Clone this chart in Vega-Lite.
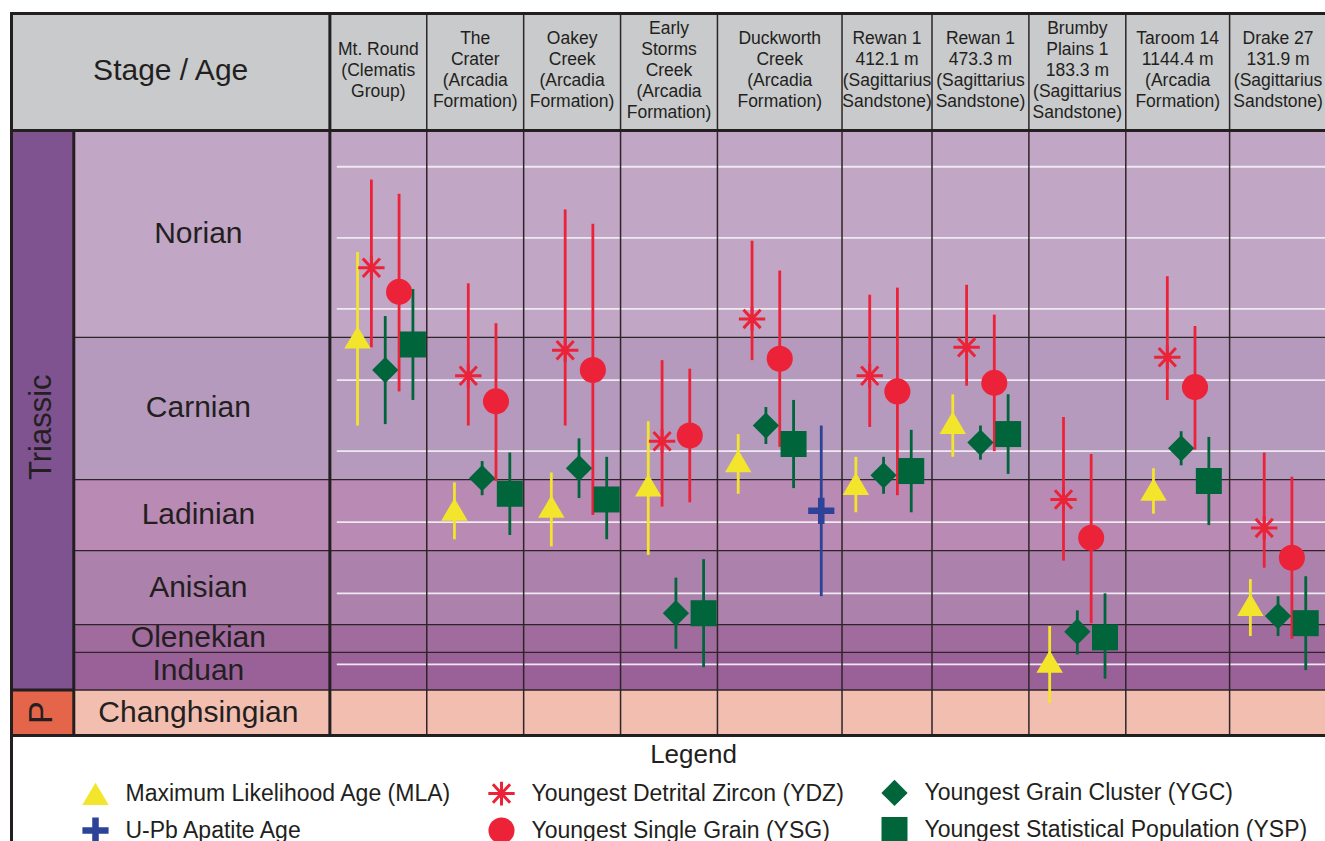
{
  "$schema": "https://vega.github.io/schema/vega-lite/v6.json",
  "background": "white",
  "padding": {"left": 8.5, "top": 10.5, "right": 0, "bottom": 0},
  "spacing": 0,
  "bounds": "flush",
  "resolve": {"scale": {"x": "shared"}},
  "config": {
    "font": "Liberation Sans",
    "view": {"stroke": null},
    "text": {"color": "#231F20", "fontSize": 17.5, "lineHeight": 21, "lineBreak": "\n"},
    "legend": {
      "orient": "none",
      "legendX": 69,
      "legendY": 611,
      "direction": "horizontal",
      "columns": 3,
      "columnPadding": 30,
      "rowPadding": -2,
      "labelFont": "Liberation Sans",
      "labelFontSize": 23,
      "labelColor": "#231F20",
      "labelLimit": 600,
      "labelOffset": 15,
      "titleFont": "Liberation Sans",
      "titleFontSize": 26,
      "titleFontWeight": "normal",
      "titleColor": "#231F20",
      "titleAnchor": "middle",
      "titlePadding": 10,
      "symbolStrokeWidth": 3,
      "symbolOpacity": 1
    }
  },
  "datasets": {
    "samples": [
      {"id": "MR", "label": "Mt. Round\n(Clematis\nGroup)"},
      {"id": "CR", "label": "The\nCrater\n(Arcadia\nFormation)"},
      {"id": "OK", "label": "Oakey\nCreek\n(Arcadia\nFormation)"},
      {"id": "ES", "label": "Early\nStorms\nCreek\n(Arcadia\nFormation)"},
      {"id": "DC", "label": "Duckworth\nCreek\n(Arcadia\nFormation)"},
      {"id": "R1", "label": "Rewan 1\n412.1 m\n(Sagittarius\nSandstone)"},
      {"id": "R2", "label": "Rewan 1\n473.3 m\n(Sagittarius\nSandstone)"},
      {"id": "BP", "label": "Brumby\nPlains 1\n183.3 m\n(Sagittarius\nSandstone)"},
      {"id": "TA", "label": "Taroom 14\n1144.4 m\n(Arcadia\nFormation)"},
      {"id": "DR", "label": "Drake 27\n131.9 m\n(Sagittarius\nSandstone)"}
    ],
    "periods": [
      {"name": "Triassic", "start": 212.45, "end": 251.8},
      {"name": "P", "start": 251.8, "end": 255}
    ],
    "stages": [
      {"stage": "Norian", "start": 212.45, "end": 227.0},
      {"stage": "Carnian", "start": 227.0, "end": 237.0},
      {"stage": "Ladinian", "start": 237.0, "end": 242.0},
      {"stage": "Anisian", "start": 242.0, "end": 247.2},
      {"stage": "Olenekian", "start": 247.2, "end": 249.15},
      {"stage": "Induan", "start": 249.15, "end": 251.8},
      {"stage": "Changhsingian", "start": 251.8, "end": 255}
    ],
    "ticks": [{"age": 215}, {"age": 220}, {"age": 225}, {"age": 230}, {"age": 235}, {"age": 240}, {"age": 245}, {"age": 250}],
    "edges": [{"b": "B1"}, {"b": "B2"}, {"b": "B3"}, {"b": "B4"}, {"b": "B5"}, {"b": "B6"}, {"b": "B7"}, {"b": "B8"}, {"b": "B9"}],
    "ages": [
      {"s": "MR", "m": "MLA", "age": 227.0, "lo": 221.0, "hi": 233.2},
      {"s": "MR", "m": "YDZ", "age": 222.1, "lo": 215.9, "hi": 227.7},
      {"s": "MR", "m": "YGC", "age": 229.3, "lo": 225.5, "hi": 233.1},
      {"s": "MR", "m": "YSG", "age": 223.8, "lo": 216.9, "hi": 230.8},
      {"s": "MR", "m": "YSP", "age": 227.5, "lo": 223.6, "hi": 231.4},
      {"s": "CR", "m": "MLA", "age": 239.1, "lo": 237.2, "hi": 241.2},
      {"s": "CR", "m": "YDZ", "age": 229.7, "lo": 223.2, "hi": 233.2},
      {"s": "CR", "m": "YGC", "age": 236.9, "lo": 235.7, "hi": 238.1},
      {"s": "CR", "m": "YSG", "age": 231.5, "lo": 226.0, "hi": 237.1},
      {"s": "CR", "m": "YSP", "age": 238.0, "lo": 235.1, "hi": 240.9},
      {"s": "OK", "m": "MLA", "age": 238.9, "lo": 236.5, "hi": 241.7},
      {"s": "OK", "m": "YDZ", "age": 227.9, "lo": 218.0, "hi": 233.2},
      {"s": "OK", "m": "YGC", "age": 236.2, "lo": 234.1, "hi": 238.3},
      {"s": "OK", "m": "YSG", "age": 229.3, "lo": 219.0, "hi": 239.5},
      {"s": "OK", "m": "YSP", "age": 238.4, "lo": 235.4, "hi": 241.2},
      {"s": "ES", "m": "MLA", "age": 237.4, "lo": 232.9, "hi": 242.3},
      {"s": "ES", "m": "YDZ", "age": 234.3, "lo": 228.6, "hi": 238.9},
      {"s": "ES", "m": "YGC", "age": 246.4, "lo": 243.9, "hi": 248.9},
      {"s": "ES", "m": "YSG", "age": 233.9, "lo": 229.2, "hi": 238.6},
      {"s": "ES", "m": "YSP", "age": 246.4, "lo": 242.6, "hi": 250.2},
      {"s": "DC", "m": "MLA", "age": 235.7, "lo": 233.8, "hi": 238.0},
      {"s": "DC", "m": "YDZ", "age": 225.7, "lo": 220.2, "hi": 228.6},
      {"s": "DC", "m": "YGC", "age": 233.2, "lo": 231.9, "hi": 234.5},
      {"s": "DC", "m": "YSG", "age": 228.5, "lo": 222.3, "hi": 234.7},
      {"s": "DC", "m": "YSP", "age": 234.5, "lo": 231.4, "hi": 237.6},
      {"s": "DC", "m": "APA", "age": 239.2, "lo": 233.2, "hi": 245.2},
      {"s": "R1", "m": "MLA", "age": 237.3, "lo": 235.4, "hi": 239.3},
      {"s": "R1", "m": "YDZ", "age": 229.7, "lo": 224.0, "hi": 233.3},
      {"s": "R1", "m": "YGC", "age": 236.7, "lo": 235.4, "hi": 238.0},
      {"s": "R1", "m": "YSG", "age": 230.8, "lo": 223.5, "hi": 238.1},
      {"s": "R1", "m": "YSP", "age": 236.4, "lo": 233.5, "hi": 239.3},
      {"s": "R2", "m": "MLA", "age": 233.0, "lo": 231.0, "hi": 235.4},
      {"s": "R2", "m": "YDZ", "age": 227.7, "lo": 223.3, "hi": 230.4},
      {"s": "R2", "m": "YGC", "age": 234.4, "lo": 233.2, "hi": 235.6},
      {"s": "R2", "m": "YSG", "age": 230.2, "lo": 225.4, "hi": 235.0},
      {"s": "R2", "m": "YSP", "age": 233.8, "lo": 231.0, "hi": 236.6},
      {"s": "BP", "m": "MLA", "age": 249.8, "lo": 247.3, "hi": 252.7},
      {"s": "BP", "m": "YDZ", "age": 238.4, "lo": 232.6, "hi": 242.7},
      {"s": "BP", "m": "YGC", "age": 247.7, "lo": 246.2, "hi": 249.3},
      {"s": "BP", "m": "YSG", "age": 241.1, "lo": 235.2, "hi": 247.1},
      {"s": "BP", "m": "YSP", "age": 248.1, "lo": 245.0, "hi": 251.0},
      {"s": "TA", "m": "MLA", "age": 237.7, "lo": 236.2, "hi": 239.4},
      {"s": "TA", "m": "YDZ", "age": 228.4, "lo": 222.7, "hi": 231.4},
      {"s": "TA", "m": "YGC", "age": 234.8, "lo": 233.6, "hi": 236.0},
      {"s": "TA", "m": "YSG", "age": 230.5, "lo": 226.2, "hi": 234.9},
      {"s": "TA", "m": "YSP", "age": 237.1, "lo": 234.0, "hi": 240.2},
      {"s": "DR", "m": "MLA", "age": 245.8, "lo": 244.0, "hi": 248.0},
      {"s": "DR", "m": "YDZ", "age": 240.4, "lo": 235.1, "hi": 243.2},
      {"s": "DR", "m": "YGC", "age": 246.6, "lo": 245.2, "hi": 248.0},
      {"s": "DR", "m": "YSG", "age": 242.5, "lo": 236.8, "hi": 248.2},
      {"s": "DR", "m": "YSP", "age": 247.1, "lo": 243.8, "hi": 250.4}
    ]
  },
  "vconcat": [
    {
      "width": 1315,
      "height": 117,
      "view": {"fill": "#C8CACB", "stroke": null},
      "data": {"name": "samples"},
      "layer": [
        {"data": {"values": [{"label": "Stage / Age"}]}, "mark": {"type": "text", "fontSize": 30, "dy": -1.5}, "encoding": {"x": {"datum": "i23", "type": "nominal", "axis": null}, "text": {"field": "label", "type": "nominal"}}},
        {"transform": [{"filter": "datum.id === 'MR'"}], "mark": {"type": "text", "dy": -22.5}, "encoding": {"x": {"datum": "i53", "type": "nominal", "axis": null}, "text": {"field": "label", "type": "nominal"}}},
        {"transform": [{"filter": "datum.id === 'CR'"}], "mark": {"type": "text", "dy": -33}, "encoding": {"x": {"datum": "i67", "type": "nominal", "axis": null}, "text": {"field": "label", "type": "nominal"}}},
        {"transform": [{"filter": "datum.id === 'OK'"}], "mark": {"type": "text", "dy": -33}, "encoding": {"x": {"datum": "i81", "type": "nominal", "axis": null}, "text": {"field": "label", "type": "nominal"}}},
        {"transform": [{"filter": "datum.id === 'ES'"}], "mark": {"type": "text", "dy": -43.5}, "encoding": {"x": {"datum": "i95", "type": "nominal", "axis": null}, "text": {"field": "label", "type": "nominal"}}},
        {"transform": [{"filter": "datum.id === 'DC'"}], "mark": {"type": "text", "dy": -33}, "encoding": {"x": {"datum": "DC|YSG", "type": "nominal", "axis": null}, "text": {"field": "label", "type": "nominal"}}},
        {"transform": [{"filter": "datum.id === 'R1'"}], "mark": {"type": "text", "dx": 3.46, "dy": -33}, "encoding": {"x": {"datum": "R1|YGC", "type": "nominal", "axis": null}, "text": {"field": "label", "type": "nominal"}}},
        {"transform": [{"filter": "datum.id === 'R2'"}], "mark": {"type": "text", "dy": -33}, "encoding": {"x": {"datum": "R2|YGC", "type": "nominal", "axis": null}, "text": {"field": "label", "type": "nominal"}}},
        {"transform": [{"filter": "datum.id === 'BP'"}], "mark": {"type": "text", "dy": -43.5}, "encoding": {"x": {"datum": "BP|YGC", "type": "nominal", "axis": null}, "text": {"field": "label", "type": "nominal"}}},
        {"transform": [{"filter": "datum.id === 'TA'"}], "mark": {"type": "text", "dx": 3.46, "dy": -33}, "encoding": {"x": {"datum": "i168", "type": "nominal", "axis": null}, "text": {"field": "label", "type": "nominal"}}},
        {"transform": [{"filter": "datum.id === 'DR'"}], "mark": {"type": "text", "dy": -33}, "encoding": {"x": {"datum": "DR|YGC", "type": "nominal", "axis": null}, "text": {"field": "label", "type": "nominal"}}}
      ]
    },
    {
      "width": 1315,
      "height": 605,
      "resolve": {"scale": {"fill": "independent", "stroke": "independent", "shape": "independent", "size": "independent", "color": "independent"}},
      "layer": [
        {
          "data": {"name": "periods"},
          "mark": {"type": "rect"},
          "encoding": {
            "x": {"datum": "P0", "type": "nominal", "axis": null, "scale": {"type": "point", "padding": 0, "domain": [
              "P0","i1","i2","i3","PC","i5","i6","i7","i8","S0",
              "i10","i11","i12","i13","i14","i15","i16","i17","i18","i19",
              "i20","i21","i22","i23","i24","i25","i26","SC","i28","i29",
              "i30","i31","i32","i33","i34","i35","i36","i37","i38","i39",
              "i40","i41","i42","i43","i44","i45","B0","G0","i48","i49",
              "MR|MLA","i51","MR|YDZ","i53","MR|YGC","i55","MR|YSG","i57","MR|YSP","i59",
              "B1","i61","i62","i63","CR|MLA","i65","CR|YDZ","i67","CR|YGC","i69",
              "CR|YSG","i71","CR|YSP","i73","B2","i75","i76","i77","OK|MLA","i79",
              "OK|YDZ","i81","OK|YGC","i83","OK|YSG","i85","OK|YSP","i87","B3","i89",
              "i90","i91","ES|MLA","i93","ES|YDZ","i95","ES|YGC","i97","ES|YSG","i99",
              "ES|YSP","i101","B4","i103","i104","DC|MLA","i106","DC|YDZ","i108","DC|YGC",
              "i110","DC|YSG","i112","DC|YSP","i114","i115","i116","DC|APA","i118","i119",
              "B5","i121","R1|MLA","i123","R1|YDZ","i125","R1|YGC","i127","R1|YSG","i129",
              "R1|YSP","i131","i132","B6","i134","i135","R2|MLA","i137","R2|YDZ","i139",
              "R2|YGC","i141","R2|YSG","i143","R2|YSP","i145","i146","B7","i148","i149",
              "BP|MLA","i151","BP|YDZ","i153","BP|YGC","i155","BP|YSG","i157","BP|YSP","i159",
              "i160","B8","i162","i163","i164","TA|MLA","i166","TA|YDZ","i168","TA|YGC",
              "i170","TA|YSG","i172","TA|YSP","i174","i175","B9","i177","i178","DR|MLA",
              "i180","DR|YDZ","i182","DR|YGC","i184","DR|YSG","i186","DR|YSP","i188","i189",
              "END"]}},
            "x2": {"datum": "S0"},
            "y": {"field": "start", "type": "quantitative", "axis": null, "scale": {"domain": [212.45, 255], "reverse": true, "nice": false, "zero": false}},
            "y2": {"field": "end"},
            "fill": {"field": "name", "type": "nominal", "legend": null, "scale": {"domain": ["Triassic", "P"], "range": ["#7E5390", "#E5654A"]}}
          }
        },
        {
          "data": {"name": "stages"},
          "mark": {"type": "rect"},
          "encoding": {
            "x": {"datum": "S0", "type": "nominal", "axis": null},
            "x2": {"datum": "END"},
            "y": {"field": "start", "type": "quantitative", "axis": {"orient": "left", "offset": -318.3684, "values": [215, 220, 225, 230, 235, 240, 245, 250], "domain": false, "grid": false, "ticks": true, "tickSize": 5, "tickWidth": 2, "tickColor": "#231F20", "labelFont": "Liberation Sans", "labelFontSize": 19, "labelColor": "#231F20", "labelPadding": 3, "title": null, "zindex": 1}},
            "y2": {"field": "end"},
            "fill": {"field": "stage", "type": "nominal", "legend": null, "scale": {"domain": ["Norian", "Carnian", "Ladinian", "Anisian", "Olenekian", "Induan", "Changhsingian"], "range": ["#C1A6C6", "#B59ABE", "#B98AB4", "#AC81AC", "#A06B9D", "#9A6199", "#F2BEAF"]}}
          }
        },
        {
          "data": {"name": "ticks"},
          "mark": {"type": "rule", "color": "#EEE9F0", "strokeWidth": 1.8},
          "encoding": {
            "x": {"datum": "G0", "type": "nominal", "axis": null},
            "x2": {"datum": "END"},
            "y": {"field": "age", "type": "quantitative", "axis": null}
          }
        },
        {
          "data": {"name": "stages"},
          "transform": [{"filter": "datum.start > 213"}],
          "mark": {"type": "rule", "color": "#2E2529", "strokeWidth": 1.3},
          "encoding": {
            "x": {"datum": "S0", "type": "nominal", "axis": null},
            "x2": {"datum": "END"},
            "y": {"field": "start", "type": "quantitative", "axis": null}
          }
        },
        {
          "data": {"name": "edges"},
          "mark": {"type": "rule", "color": "#2E2529", "strokeWidth": 1.5},
          "encoding": {
            "x": {"field": "b", "type": "nominal", "axis": null},
            "y": {"datum": 204.2213, "type": "quantitative", "axis": null},
            "y2": {"datum": 255}
          }
        },
        {
          "data": {"values": [{}]},
          "mark": {"type": "rule", "color": "#231F20", "strokeWidth": 3, "strokeCap": "square"},
          "encoding": {
            "x": {"datum": "P0", "type": "nominal", "axis": null},
            "y": {"datum": 204.2213, "type": "quantitative", "axis": null},
            "y2": {"datum": 262.4}
          }
        },
        {
          "data": {"values": [{}]},
          "mark": {"type": "rule", "color": "#231F20", "strokeWidth": 3},
          "encoding": {
            "x": {"datum": "S0", "type": "nominal", "axis": null},
            "y": {"datum": 212.45, "type": "quantitative", "axis": null},
            "y2": {"datum": 255}
          }
        },
        {
          "data": {"values": [{}]},
          "mark": {"type": "rule", "color": "#231F20", "strokeWidth": 3},
          "encoding": {
            "x": {"datum": "B0", "type": "nominal", "axis": null},
            "y": {"datum": 204.2213, "type": "quantitative", "axis": null},
            "y2": {"datum": 255}
          }
        },
        {
          "data": {"values": [{}]},
          "mark": {"type": "rule", "color": "#231F20", "strokeWidth": 3},
          "encoding": {
            "x": {"datum": "P0", "type": "nominal", "axis": null},
            "x2": {"datum": "END"},
            "y": {"datum": 204.2213, "type": "quantitative", "axis": null}
          }
        },
        {
          "data": {"values": [{}]},
          "mark": {"type": "rule", "color": "#231F20", "strokeWidth": 3},
          "encoding": {
            "x": {"datum": "P0", "type": "nominal", "axis": null},
            "x2": {"datum": "END"},
            "y": {"datum": 212.45, "type": "quantitative", "axis": null}
          }
        },
        {
          "data": {"values": [{}]},
          "mark": {"type": "rule", "color": "#231F20", "strokeWidth": 3},
          "encoding": {
            "x": {"datum": "P0", "type": "nominal", "axis": null},
            "x2": {"datum": "END"},
            "y": {"datum": 255, "type": "quantitative", "axis": null}
          }
        },
        {
          "data": {"values": [{}]},
          "mark": {"type": "rule", "color": "#231F20", "strokeWidth": 3},
          "encoding": {
            "x": {"datum": "P0", "type": "nominal", "axis": null},
            "x2": {"datum": "S0"},
            "y": {"datum": 251.8, "type": "quantitative", "axis": null}
          }
        },
        {
          "data": {"name": "periods"},
          "transform": [{"filter": "datum.name === 'Triassic'"}, {"calculate": "(datum.start + datum.end) / 2", "as": "mid"}],
          "mark": {"type": "text", "fontSize": 31, "angle": 270, "dx": -17, "dy": 3},
          "encoding": {
            "x": {"datum": "PC", "type": "nominal", "axis": null},
            "y": {"field": "mid", "type": "quantitative", "axis": null},
            "text": {"field": "name", "type": "nominal"}
          }
        },
        {
          "data": {"name": "periods"},
          "transform": [{"filter": "datum.name === 'P'"}, {"calculate": "(datum.start + datum.end) / 2", "as": "mid"}],
          "mark": {"type": "text", "fontSize": 34, "angle": 270, "dy": 3},
          "encoding": {
            "x": {"datum": "PC", "type": "nominal", "axis": null},
            "y": {"field": "mid", "type": "quantitative", "axis": null},
            "text": {"field": "name", "type": "nominal"}
          }
        },
        {
          "data": {"name": "stages"},
          "transform": [{"calculate": "(datum.start + datum.end) / 2", "as": "mid"}],
          "mark": {"type": "text", "fontSize": 30},
          "encoding": {
            "x": {"datum": "SC", "type": "nominal", "axis": null},
            "y": {"field": "mid", "type": "quantitative", "axis": null},
            "text": {"field": "stage", "type": "nominal"}
          }
        },
        {
          "data": {"name": "ages"},
          "transform": [{"calculate": "datum.s + '|' + datum.m", "as": "key"}],
          "mark": {"type": "rule", "strokeWidth": 2.8},
          "encoding": {
            "x": {"field": "key", "type": "nominal", "axis": null},
            "y": {"field": "lo", "type": "quantitative", "axis": null},
            "y2": {"field": "hi"},
            "color": {"field": "m", "type": "nominal", "legend": null, "scale": {"domain": ["MLA", "YDZ", "YGC", "APA", "YSG", "YSP"], "range": ["#F3E52B", "#EC2338", "#00653A", "#2C4398", "#EC2338", "#00653A"]}}
          }
        },
        {
          "data": {"name": "ages"},
          "transform": [{"calculate": "datum.s + '|' + datum.m", "as": "key"}],
          "mark": {"type": "point", "filled": true, "opacity": 1, "strokeWidth": 3},
          "encoding": {
            "x": {"field": "key", "type": "nominal", "axis": null},
            "y": {"field": "age", "type": "quantitative", "axis": null},
            "fill": {"field": "m", "type": "nominal",
              "scale": {"domain": ["MLA", "YDZ", "YGC", "APA", "YSG", "YSP"], "range": ["#F3E52B", "#EC2338", "#00653A", "#2C4398", "#EC2338", "#00653A"]},
              "legend": {"title": "Legend", "labelExpr": "{'MLA': 'Maximum Likelihood Age (MLA)', 'YDZ': 'Youngest Detrital Zircon (YDZ)', 'YGC': 'Youngest Grain Cluster (YGC)', 'APA': 'U-Pb Apatite Age', 'YSG': 'Youngest Single Grain (YSG)', 'YSP': 'Youngest Statistical Population (YSP)'}[datum.label]"}},
            "stroke": {"field": "m", "type": "nominal",
              "scale": {"domain": ["MLA", "YDZ", "YGC", "APA", "YSG", "YSP"], "range": ["transparent", "#EC2338", "transparent", "transparent", "transparent", "transparent"]},
              "legend": {"title": "Legend", "labelExpr": "{'MLA': 'Maximum Likelihood Age (MLA)', 'YDZ': 'Youngest Detrital Zircon (YDZ)', 'YGC': 'Youngest Grain Cluster (YGC)', 'APA': 'U-Pb Apatite Age', 'YSG': 'Youngest Single Grain (YSG)', 'YSP': 'Youngest Statistical Population (YSP)'}[datum.label]"}},
            "shape": {"field": "m", "type": "nominal",
              "scale": {"domain": ["MLA", "YDZ", "YGC", "APA", "YSG", "YSP"], "range": ["M0,-0.85L1,0.85L-1,0.85Z", "M-1,0L1,0M0,-0.9L0,0.9M-0.65,-0.7L0.65,0.7M-0.65,0.7L0.65,-0.7", "diamond", "M-1,-0.25L1,-0.25L1,0.25L-1,0.25ZM-0.25,-1L0.25,-1L0.25,1L-0.25,1Z", "circle", "square"]},
              "legend": {"title": "Legend", "labelExpr": "{'MLA': 'Maximum Likelihood Age (MLA)', 'YDZ': 'Youngest Detrital Zircon (YDZ)', 'YGC': 'Youngest Grain Cluster (YGC)', 'APA': 'U-Pb Apatite Age', 'YSG': 'Youngest Single Grain (YSG)', 'YSP': 'Youngest Statistical Population (YSP)'}[datum.label]"}},
            "size": {"field": "m", "type": "nominal",
              "scale": {"domain": ["MLA", "YDZ", "YGC", "APA", "YSG", "YSP"], "range": [700, 676, 380, 784, 380, 400]},
              "legend": {"title": "Legend", "labelExpr": "{'MLA': 'Maximum Likelihood Age (MLA)', 'YDZ': 'Youngest Detrital Zircon (YDZ)', 'YGC': 'Youngest Grain Cluster (YGC)', 'APA': 'U-Pb Apatite Age', 'YSG': 'Youngest Single Grain (YSG)', 'YSP': 'Youngest Statistical Population (YSP)'}[datum.label]"}}
          }
        }
      ]
    }
  ]
}
